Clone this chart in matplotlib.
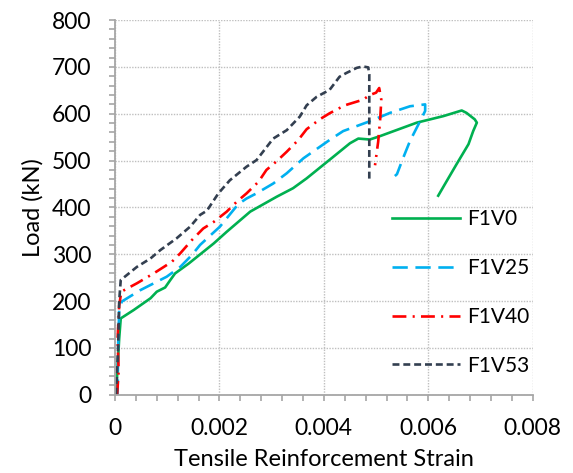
import matplotlib
matplotlib.use("Agg")
import matplotlib.pyplot as plt
from matplotlib.ticker import MultipleLocator

plt.rcParams["font.family"] = ["Lato", "DejaVu Sans"]
plt.rcParams["lines.scale_dashes"] = False

# F1V0
x_v0 = [0.00002, 0.00004, 0.00008, 0.00011, 0.00036, 0.00068, 0.0008, 0.00096, 0.00106,
        0.00115, 0.00141, 0.00189, 0.00214, 0.00259, 0.0031, 0.00341, 0.00367, 0.00418,
        0.0045, 0.00466, 0.00488, 0.00507, 0.00578, 0.00629, 0.00664, 0.00673, 0.00689,
        0.00693, 0.00686, 0.00677, 0.00654, 0.00632, 0.00619]
y_v0 = [0, 40, 120, 163, 181, 206, 220, 229, 245, 259, 280, 323, 348, 391, 423, 441, 462,
        508, 537, 547, 545, 552, 581, 595, 607, 602, 588, 581, 563, 535, 492, 450, 425]

# F1V25
x_v25 = [0.00005, 0.00006, 0.00008, 0.00013, 0.00048, 0.00099, 0.00125, 0.00147, 0.00163,
         0.00201, 0.00236, 0.00252, 0.00271, 0.00303, 0.00329, 0.00361, 0.00411, 0.00437,
         0.00488, 0.00527, 0.00565, 0.00594, 0.00594, 0.00581, 0.00565, 0.00552, 0.0054,
         0.00536]
y_v25 = [0, 100, 180, 199, 223, 252, 273, 298, 320, 359, 407, 419, 430, 451, 473, 505, 544,
         563, 584, 602, 616, 620, 606, 577, 542, 506, 471, 467]

# F1V40
x_v40 = [0.00004, 0.00007, 0.00005, 0.00008, 0.00012, 0.00042, 0.00074, 0.00109, 0.00125,
         0.00147, 0.00169, 0.00189, 0.00214, 0.00233, 0.00252, 0.00275, 0.0029, 0.0031,
         0.00329, 0.00351, 0.00367, 0.00392, 0.00411, 0.0044, 0.00475, 0.00488, 0.005,
         0.00506, 0.0051, 0.00508, 0.00504, 0.00498]
y_v40 = [0, 50, 120, 190, 220, 238, 259, 284, 302, 330, 355, 369, 391, 412, 430, 455, 480,
         499, 519, 544, 567, 588, 601, 618, 630, 640, 645, 655, 630, 590, 540, 490]

# F1V53
x_v53 = [0.00002, 0.00006, 0.00008, 0.00011, 0.00042, 0.00068, 0.00087, 0.00118, 0.00144,
         0.00163, 0.00176, 0.00198, 0.0022, 0.00252, 0.00271, 0.00303, 0.00329, 0.00354,
         0.00367, 0.00386, 0.00411, 0.0043, 0.00443, 0.00463, 0.00475, 0.00485, 0.00487,
         0.00487]
y_v53 = [0, 100, 200, 245, 273, 291, 309, 334, 359, 384, 393, 430, 458, 487, 501, 547, 565,
         594, 618, 636, 651, 679, 687, 698, 701, 699, 684, 457]

fig = plt.figure(figsize=(5.73, 4.73), dpi=100)
ax = fig.add_axes([0.2007, 0.1655, 0.729, 0.792])

ax.plot(x_v0, y_v0, color="#00B050", lw=1.9, label="F1V0")
ax.plot(x_v25, y_v25, color="#00B0F0", lw=1.9, dashes=(11, 5.5), label="F1V25")
ax.plot(x_v40, y_v40, color="#FF0000", lw=1.9, dashes=(10, 4.5, 1.5, 4.5), label="F1V40")
ax.plot(x_v53, y_v53, color="#333F50", lw=1.9, dashes=(5, 2.8), label="F1V53")

ax.set_xlim(0, 0.008)
ax.set_ylim(0, 800)
ax.xaxis.set_major_locator(MultipleLocator(0.002))
ax.xaxis.set_minor_locator(MultipleLocator(0.0004))
ax.yaxis.set_major_locator(MultipleLocator(100))
ax.yaxis.set_minor_locator(MultipleLocator(20))
ax.set_xticks([0, 0.002, 0.004, 0.006, 0.008])
ax.set_xticklabels(["0", "0.002", "0.004", "0.006", "0.008"])

ax.grid(True, which="major", color="#BFBFBF", linestyle=(0, (1, 1)), lw=1)
for s in ["top", "right"]:
    ax.spines[s].set_visible(False)
for s in ["left", "bottom"]:
    ax.spines[s].set_color("#A6A6A6")
    ax.spines[s].set_linewidth(1.3)
ax.tick_params(which="both", direction="out", color="#A6A6A6", width=1.2, length=4,
               labelsize=16.5)
ax.tick_params(axis="x", pad=13)
ax.tick_params(axis="y", pad=13)

ax.set_xlabel("Tensile Reinforcement Strain", fontsize=17, labelpad=7)
ax.set_ylabel("Load (kN)", fontsize=17, labelpad=6)

ax.legend(loc="center left", bbox_to_anchor=(0.651, 0.3816), bbox_transform=fig.transFigure,
          frameon=False, fontsize=15, labelspacing=1.38, handlelength=3.27,
          handletextpad=0.35)

fig.savefig("out.png", dpi=100)
